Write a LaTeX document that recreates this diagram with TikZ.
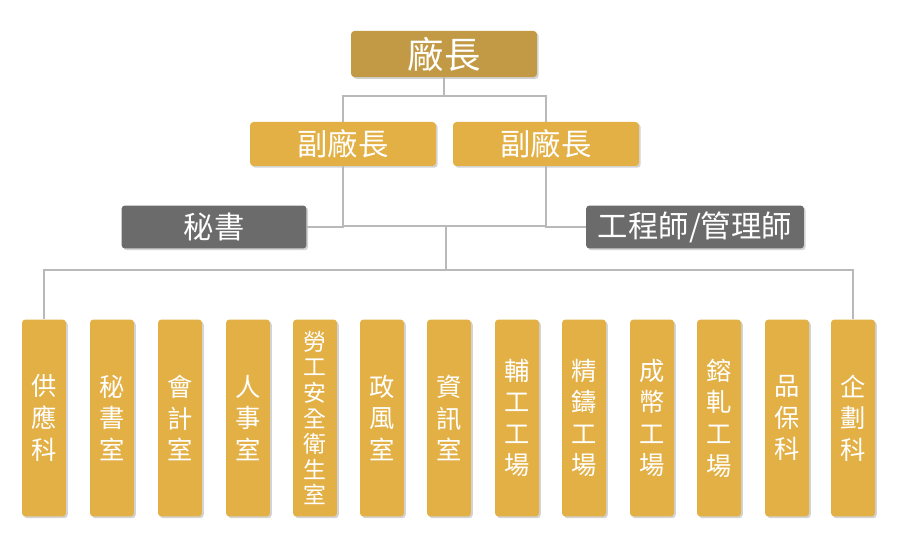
\documentclass[tikz,border=0pt]{standalone}
\usepackage{fontspec}
\newfontfamily\cjk{Noto Sans CJK TC}
\usetikzlibrary{positioning,shadows}
\definecolor{gold}{HTML}{E3B046}
\definecolor{darkgold}{HTML}{C29A45}
\definecolor{grayboxc}{HTML}{6B6B6B}
\begin{document}
\begin{tikzpicture}[x=0.02cm,y=-0.02cm,
  box/.style = {shape = rectangle, rounded corners = 2pt, text = white, font = \cjk, drop shadow = {shadow xshift = 1pt, shadow yshift = -1pt, opacity = .35}},
  top/.style = {box, fill = darkgold, minimum width = 3.72cm, minimum height = 0.86cm, font = \cjk\huge},
  vice/.style = {box, fill = gold, minimum width = 3.72cm, minimum height = 0.88cm, font = \cjk\LARGE},
  staff/.style = {box, fill = grayboxc, minimum height = 0.86cm, font = \cjk\LARGE},
  dept/.style = {box, fill = gold, minimum width = 0.88cm, minimum height = 3.94cm, align = center, font = \cjk\Large, inner sep = 1pt},
  link/.style = {draw = gray!55, line width = 1.2pt}]
\useasboundingbox (0,0) rectangle (900,560);
\node[top] (boss) at (444,54) {廠長};
\node[vice] (vl) at (343,144) {副廠長};
\node[vice] (vr) at (546,144) {副廠長};
\node[staff, minimum width = 3.7cm] (sec) at (214,227) {秘書};
\node[staff, minimum width = 4.36cm] (eng) at (695,227) {工程師/管理師};
% departments
\foreach \i/\x/\t in {1/44/供\\應\\科, 2/112/秘\\書\\室, 3/180/會\\計\\室, 4/248/人\\事\\室,
  6/382/政\\風\\室, 7/449/資\\訊\\室, 8/517/輔\\工\\工\\場,
  9/584/精\\鑄\\工\\場, 10/652/成\\幣\\工\\場, 11/719/鎔\\軋\\工\\場, 12/787/品\\保\\科, 13/853/企\\劃\\科}
  \node[dept] (d\i) at (\x,418) {\t};
\node[dept, font = \cjk\fontsize{13}{14.6}\selectfont] (d5) at (315,418) {勞\\工\\安\\全\\衛\\生\\室};
% connectors
\coordinate (hub) at (444,96);
\coordinate (mid) at (446,226);
\coordinate (bus) at (446,270);
\draw[link] (boss.south) -- (hub) -| (vl.north);
\draw[link] (hub) -| (vr.north);
\draw[link] (vl.south) |- (sec.east);
\draw[link] (vr.south) |- (eng.west);
\draw[link] (vl.south |- mid) -- (vr.south |- mid);
\draw[link] (mid) -- (bus);
\draw[link] (bus) -| (d1.north);
\draw[link] (bus) -| (d13.north);
\end{tikzpicture}
\end{document}
